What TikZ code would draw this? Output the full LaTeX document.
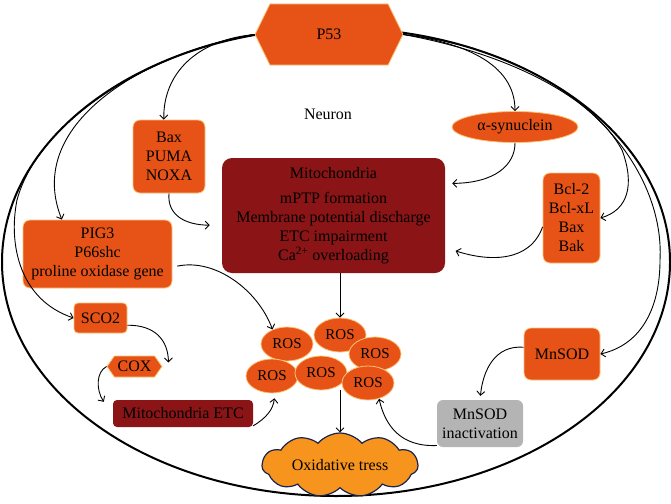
\documentclass[tikz,border=0pt]{standalone}
\usepackage{fontspec}
\setmainfont{Liberation Serif}
\usetikzlibrary{shapes.geometric,shapes.symbols,arrows.meta}
\definecolor{orng}{RGB}{231,83,22}
\definecolor{paleedge}{RGB}{250,196,120}
\definecolor{mitored}{RGB}{139,20,22}
\definecolor{inactgray}{RGB}{180,180,180}
\definecolor{cloudfill}{RGB}{247,148,29}
\definecolor{cloudedge}{RGB}{25,35,80}
\begin{document}
\begin{tikzpicture}[x=1pt,y=-1pt,
    font=\fontsize{16}{19}\selectfont,
    orbox/.style={draw=paleedge, line width=0.8pt, fill=orng, rounded corners=7pt,
        align=center, inner sep=2pt},
    darkbox/.style={fill=mitored, rounded corners=10pt, align=center, inner sep=2pt},
    hexa/.style={signal, signal to=west and east, draw=paleedge, line width=0.8pt,
        fill=orng, inner sep=0pt},
    ros/.style={ellipse, draw=paleedge, line width=0.8pt, fill=orng,
        minimum width=52pt, minimum height=34pt, inner sep=0pt,
        font=\fontsize{15}{18}\selectfont},
    link/.style={-{Straight Barb[length=4pt,width=8pt]}, line width=0.9pt},
]
\useasboundingbox (0,0) rectangle (671,503);
% the neuron
\draw[line width=2pt] (336,262) ellipse [x radius=334, y radius=234];
\node (neuron) at (328,114) {Neuron};

% nodes
\node[hexa, signal pointer angle=128, minimum width=148pt, minimum height=61pt] (p53) at (329,34.5) {P53};
\node[orbox, minimum width=72pt, minimum height=73pt] (bax) at (169,156.5) {Bax\\PUMA\\NOXA};
\node[ellipse, draw=paleedge, line width=0.8pt, fill=orng, minimum width=126pt, minimum height=31pt, inner sep=0pt] (asyn) at (515,127) {α-synuclein};
\node[darkbox, minimum width=223pt, minimum height=115pt] (mito) at (333.5,215.5)
    {Mitochondria\\[6pt]mPTP formation\\Membrane potential discharge\\ETC impairment\\Ca\textsuperscript{2+} overloading};
\node[orbox, minimum width=57pt, minimum height=90pt] (bcl) at (571.5,218) {Bcl-2\\Bcl-xL\\Bax\\Bak};
\node[orbox, minimum width=149pt, minimum height=68pt] (pig3) at (97.5,254) {PIG3\\P66shc\\proline oxidase gene};
\node[orbox, rounded corners=4pt, minimum width=53pt, minimum height=30pt] (sco2) at (100.5,318) {SCO2};
\node[hexa, signal pointer angle=110, minimum width=55pt, minimum height=21pt] (cox) at (134.5,366.5) {COX};
\node[darkbox, rounded corners=4pt, minimum width=140pt, minimum height=27pt] (etc) at (183,413.5) {Mitochondria ETC};
\node[orbox, minimum width=76pt, minimum height=52pt] (mnsod) at (562,354) {MnSOD};
\node[fill=inactgray, rounded corners=6pt, align=center, inner sep=1pt, minimum width=86pt, minimum height=47pt] (inact) at (480,423.5) {MnSOD\\inactivation};

% ROS cluster
\node[ros] (ros1) at (287,344) {ROS};
\node[ros] (ros2) at (340,335) {ROS};
\node[ros] (ros3) at (375,354) {ROS};
\node[ros] (ros4) at (272,376) {ROS};
\node[ros] (ros5) at (321,373) {ROS};
\node[ros] (ros6) at (368,383) {ROS};

\node[cloud, cloud puffs=11, cloud puff arc=100, cloud ignores aspect, draw=cloudedge, line width=1.2pt,
    fill=cloudfill, minimum width=156pt, minimum height=64pt, inner sep=0pt] (stress) at (340,465) {Oxidative tress};

% p53 targets
\draw[link] (p53.west) .. controls (195,40) and (163,75) .. (bax.98);
\draw[link] (p53.west) .. controls (155,50) and (22,120) .. (pig3.136);
\draw[link] (p53.west) .. controls (160,50) and (40,115) .. (17,200)
    .. controls (8,245) and (20,300) .. (sco2.west);
\draw[link] (p53.east) .. controls (460,42) and (515,62) .. (asyn.north);
\draw[link] (p53.east) .. controls (515,55) and (595,100) .. (622,150)
    .. controls (635,185) and (628,210) .. (bcl.east);
\draw[link] (p53.east) .. controls (580,55) and (665,170) .. (660,260)
    .. controls (660,310) and (640,345) .. (mnsod.east);

% into the mitochondria
\draw[link, shorten >=12pt] (bax.south) .. controls (167,215) and (185,225) .. (mito.185);
\draw[link, shorten >=7pt] (asyn.south) .. controls (515,165) and (495,183) .. (mito.16);
\draw[link, shorten >=11pt] (bcl.197) .. controls (530,262) and (490,262) .. (mito.-16);

% towards ROS
\draw[link] (ros2.north |- mito.south) -- (ros2.north);
\draw[link, shorten <=5pt] (pig3.-10) .. controls (215,258) and (258,290) .. (ros1.135);
\draw[link] (sco2.-15) .. controls (155,325) and (168,340) .. ([xshift=6pt,yshift=4pt]cox.east);
\draw[link] (cox.west) .. controls (96,372) and (96,390) .. ([xshift=-9pt,yshift=-2pt]etc.north west);
\draw[link, shorten >=5pt] (etc.-10) .. controls (266,418) and (273,410) .. (ros4.-80);
\draw[link, shorten >=4pt] (mnsod.170) .. controls (495,345) and (483,370) .. (inact.north);
\draw[link] (inact.207) .. controls (400,447) and (385,425) .. (ros6.-55);
\draw[link] (stress.north |- ros5.south) -- (stress.north);
\end{tikzpicture}
\end{document}
